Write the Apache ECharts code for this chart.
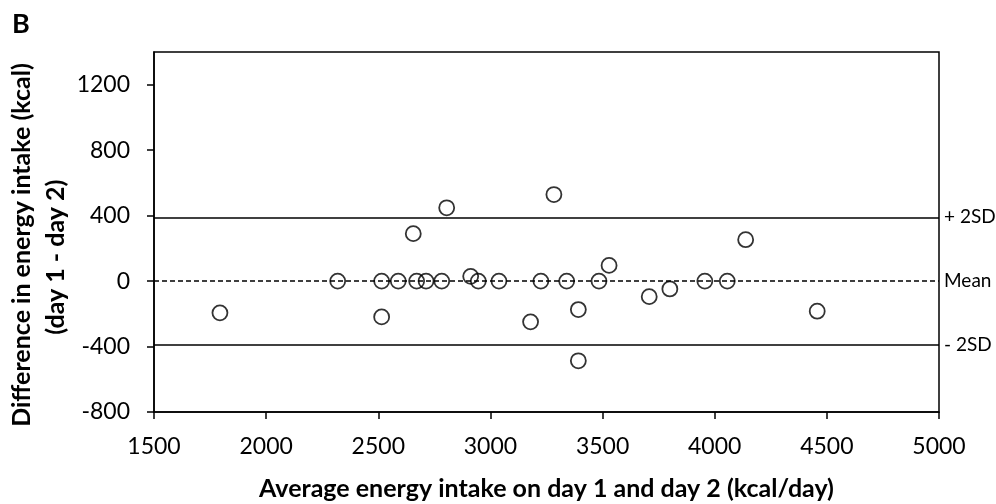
<!DOCTYPE html>
<html>
<head>
<meta charset="utf-8">
<script src="https://cdn.jsdelivr.net/npm/echarts@6/dist/echarts.min.js"></script>
<style>html,body{margin:0;padding:0;background:#fff}#c{width:996px;height:504px}</style>
</head>
<body>
<div id="c"></div>
<script>
// Average energy intake (kcal/day)
const xValues = [1794, 2319, 2515, 2515, 2589, 2656, 2671, 2713, 2783, 2805, 2912, 2946, 3038, 3179, 3225, 3283, 3340, 3392, 3392, 3484, 3529, 3708, 3800, 3956, 4056, 4138, 4457];
// Difference day 1 - day 2 (kcal)
const yValues = [-194, 0, 0, -219, 0, 290, 0, 0, 0, 448, 29, 0, 0, -249, 0, 529, 0, -174, -487, 0, 96, -95, -48, 0, 0, 253, -184];
const limitValues = [390, 0, -390];
const limitLabels = ['+ 2SD', 'Mean', '- 2SD'];
const xTicks = [1500, 2000, 2500, 3000, 3500, 4000, 4500, 5000];
const yTicks = [-800, -400, 0, 400, 800, 1200];

const FONT = 'Lato';
const chart = echarts.init(document.getElementById('c'), null, {renderer: 'canvas'});
const points = xValues.map((x, i) => [x, yValues[i]]);
const plain = v => String(v);

chart.setOption({
  animation: false,
  backgroundColor: '#fff',
  textStyle: {fontFamily: FONT, color: '#000'},
  grid: {left: 154, right: 57, top: 52, bottom: 92, containLabel: false, outerBoundsMode: 'none',
         show: true, borderColor: '#000', borderWidth: 1.5, backgroundColor: 'transparent'},
  graphic: [{type: 'text', left: 12, top: 11, style: {text: 'B', font: 'bold 27px Lato', fill: '#000'}}],
  xAxis: {
    type: 'value', min: 1500, max: 5000, interval: 500,
    axisLine: {show: true, onZero: false, lineStyle: {color: '#000', width: 1.5}},
    axisTick: {show: true, length: 7, lineStyle: {color: '#000', width: 1.5}, customValues: xTicks},
    axisLabel: {color: '#000', fontSize: 23, fontFamily: FONT, margin: 23, customValues: xTicks, formatter: plain},
    splitLine: {show: false},
    name: 'Average energy intake on day 1 and day 2 (kcal/day)',
    nameLocation: 'middle', nameGap: 64, nameMoveOverlap: false,
    nameTextStyle: {fontFamily: FONT, fontWeight: 'bold', fontSize: 25, color: '#000'}
  },
  yAxis: {
    type: 'value', min: -800, max: 1400, interval: 400,
    axisLine: {show: true, onZero: false, lineStyle: {color: '#000', width: 1.5}},
    axisTick: {show: true, length: 7, lineStyle: {color: '#000', width: 1.5}, customValues: yTicks},
    axisLabel: {color: '#000', fontSize: 23, fontFamily: FONT, margin: 24, customValues: yTicks, formatter: plain},
    splitLine: {show: false},
    name: 'Difference in energy intake (kcal)\n(day 1 - day 2)\u00a0\u00a0\u00a0\u00a0',
    nameLocation: 'middle', nameGap: 81, nameRotate: 90, nameMoveOverlap: false,
    nameTextStyle: {fontFamily: FONT, fontWeight: 'bold', fontSize: 25, color: '#000', lineHeight: 34, align: 'center', padding: [0, 26, 0, 0]}
  },
  series: [{
    type: 'scatter',
    data: points,
    symbol: 'circle',
    symbolSize: 15,
    itemStyle: {color: 'rgba(0,0,0,0)', borderColor: '#000', borderWidth: 1.8},
    z: 3,
    markLine: {
      silent: true,
      symbol: 'none',
      animation: false,
      data: limitValues.map((v, i) => ({
        yAxis: v,
        lineStyle: {color: '#000', width: 1.5, type: i === 1 ? [5, 3] : 'solid'},
        label: {show: true, position: 'end', formatter: limitLabels[i], color: '#000', fontSize: 19, fontFamily: FONT, distance: 5}
      }))
    }
  }]
});
</script>
</body>
</html>
